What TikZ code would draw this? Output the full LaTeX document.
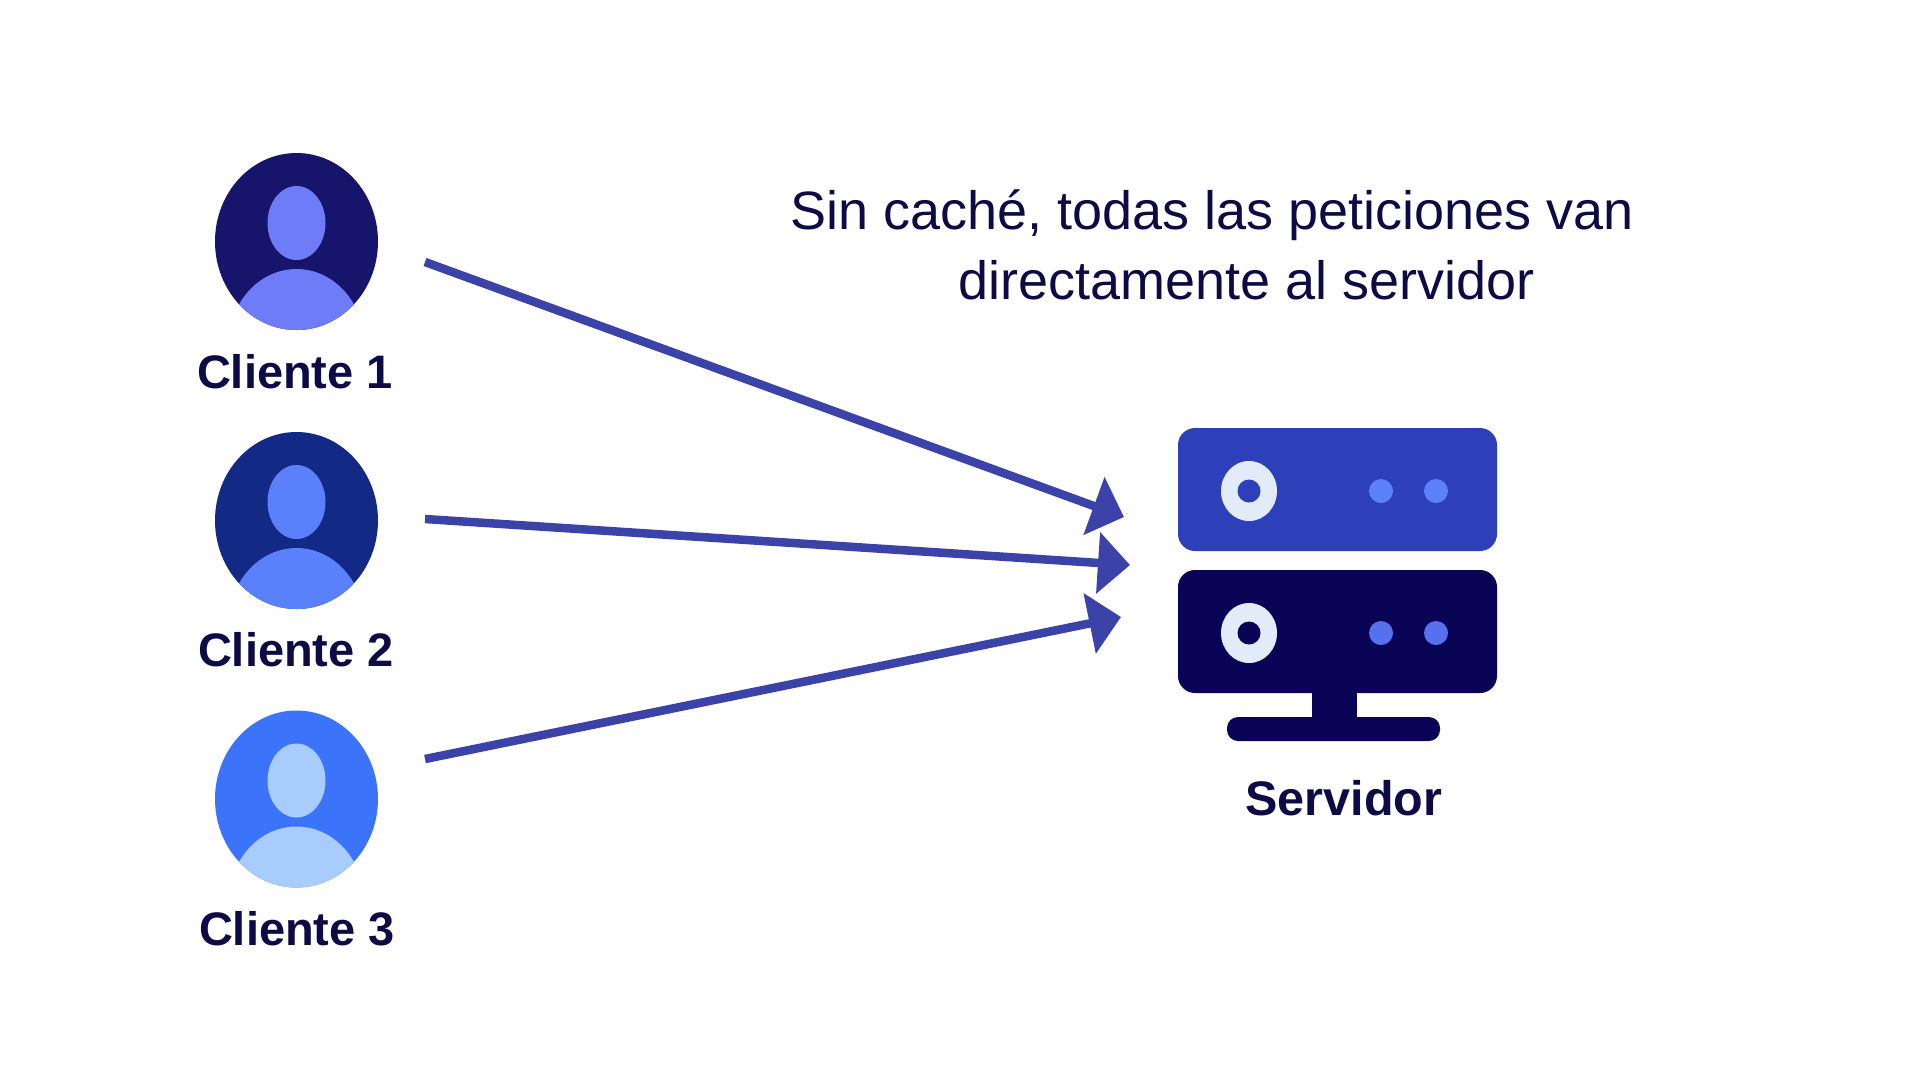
\documentclass[tikz,border=0pt]{standalone}
\usepackage{fontspec}
\setmainfont{Liberation Sans}
\usetikzlibrary{arrows.meta,shapes.geometric}
\definecolor{ink}{HTML}{0C0B45}
\definecolor{arrowblue}{HTML}{3B42A8}
\definecolor{navya}{HTML}{16146B}
\definecolor{lighta}{HTML}{6F7CF8}
\definecolor{navyb}{HTML}{122A85}
\definecolor{lightb}{HTML}{5A80FB}
\definecolor{navyc}{HTML}{3B74FA}
\definecolor{lightc}{HTML}{A8CCFB}
\definecolor{rackblue}{HTML}{2E3FBA}
\definecolor{racknavy}{HTML}{0A0456}
\definecolor{ringc}{HTML}{E2ECF9}
\definecolor{dota}{HTML}{5C82FA}
\definecolor{dotb}{HTML}{5670EE}
\tikzset{
  avatar/.style={ellipse,draw=none,minimum width=163pt,minimum height=177pt,inner sep=0pt},
  head/.style={ellipse,draw=none,minimum width=58pt,minimum height=74pt,inner sep=0pt},
  clientlabel/.style={anchor=base,inner sep=0pt,text=ink,font=\fontsize{47}{56}\selectfont\bfseries},
  rack/.style={rectangle,rounded corners=17pt,draw=none,minimum width=319pt,minimum height=123pt,inner sep=0pt},
  ring/.style={ellipse,draw=none,fill=ringc,minimum width=56pt,minimum height=60pt,inner sep=0pt},
  hole/.style={circle,draw=none,minimum size=23pt,inner sep=0pt},
  led/.style={circle,draw=none,minimum size=24pt,inner sep=0pt},
  conn/.style={draw=arrowblue,line width=8.5pt,-{Triangle[length=32pt,width=60pt,fill=arrowblue,color=arrowblue]}}
}
\newcommand{\clientavatar}[4]{%
  \node[avatar,fill=#3] (c#1) at (296.5,#2) {};
  \begin{scope}
    \clip (296.5,#2) ellipse [x radius=81.5pt,y radius=88.5pt];
    \fill[#4] (296.5,#2+103.5) ellipse [x radius=68pt,y radius=76pt];
  \end{scope}
  \node[head,fill=#4] (h#1) at (296.5,#2-18.5) {};
}
\newcommand{\rackunit}[4]{%
  \node[rack,fill=#3] (r#1) at (1337.5,#2) {};
  \node[ring] (ring#1) at (1249,#2+1.5) {};
  \node[hole,fill=#3] (hole#1) at (1249,#2+1.5) {};
  \node[led,fill=#4] (leda#1) at (1381,#2+1.5) {};
  \node[led,fill=#4] (ledb#1) at (1436,#2+1.5) {};
}
\begin{document}
\begin{tikzpicture}[x=1pt,y=-1pt]
\useasboundingbox (0,0) rectangle (1920,1080);
\fill[white] (0,0) rectangle (1920,1080);
\clientavatar{1}{241.5}{navya}{lighta}
\clientavatar{2}{520.5}{navyb}{lightb}
\clientavatar{3}{799}{navyc}{lightc}
\node[clientlabel] (l1) at (295,388) {Cliente 1};
\node[clientlabel] (l2) at (296,666) {Cliente 2};
\node[clientlabel] (l3) at (297,945) {Cliente 3};
\node[anchor=north west,inner sep=0pt,align=left,text=ink,font=\fontsize{54}{70}\selectfont] (note) at (790,190)
  {Sin caché, todas las peticiones van\\\hspace*{168pt}directamente al servidor};
\fill[racknavy] (1312,680) rectangle (1357,725);
\node[rectangle,rounded corners=11pt,fill=racknavy,minimum width=213pt,minimum height=24pt,inner sep=0pt] (base) at (1333.5,729) {};
\rackunit{1}{489.5}{rackblue}{dota}
\rackunit{2}{631.5}{racknavy}{dotb}
\node[anchor=base,inner sep=0pt,text=ink,font=\fontsize{48.5}{56}\selectfont\bfseries] (srv) at (1344,815) {Servidor};
\coordinate (s1) at (425,262);
\coordinate (s2) at (425,519);
\coordinate (s3) at (425,759);
\coordinate (t1) at (1124,517);
\coordinate (t2) at (1130,565);
\coordinate (t3) at (1121,617);
\draw[conn] (s1) -- (t1);
\draw[conn] (s2) -- (t2);
\draw[conn] (s3) -- (t3);
\end{tikzpicture}
\end{document}
